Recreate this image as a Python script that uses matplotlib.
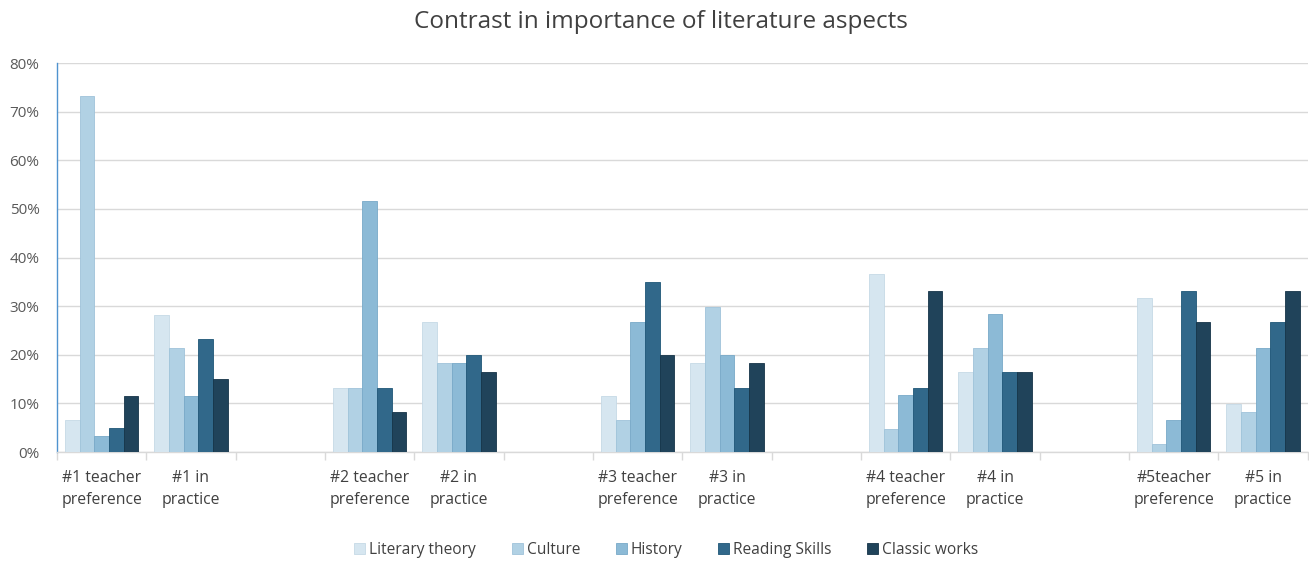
import numpy as np
import matplotlib.pyplot as plt
from matplotlib.ticker import FixedLocator, PercentFormatter

plt.rcParams['font.family'] = ['Open Sans', 'DejaVu Sans']

categories = [
    "#1 teacher\npreference", "#1 in\npractice", "",
    "#2 teacher\npreference", "#2 in\npractice", "",
    "#3 teacher\npreference", "#3 in\npractice", "",
    "#4 teacher\npreference", "#4 in\npractice", "",
    "#5teacher\npreference", "#5 in\npractice",
]
series_names = ["Literary theory", "Culture", "History", "Reading Skills", "Classic works"]

# percentages per category (empty spacer categories hold None)
literary_theory = [6.7, 28.2, None, 13.1, 26.7, None, 11.6, 18.3, None, 36.6, 16.5, None, 31.7, 9.9]
culture         = [73.3, 21.5, None, 13.1, 18.4, None, 6.6, 29.8, None, 4.8, 21.5, None, 1.7, 8.2]
history         = [3.3, 11.6, None, 51.7, 18.4, None, 26.7, 19.9, None, 11.7, 28.3, None, 6.6, 21.5]
reading_skills  = [4.9, 23.3, None, 13.1, 19.9, None, 35.0, 13.2, None, 13.2, 16.5, None, 33.2, 26.7]
classic_works   = [11.6, 15.0, None, 8.2, 16.5, None, 19.9, 18.3, None, 33.2, 16.5, None, 26.7, 33.2]

colors = ["#d6e6f0", "#b1d1e4", "#8cbad6", "#31688a", "#20435a"]
edges = ["#c5d9e6", "#9fc3da", "#78a9c8", "#1f5677", "#163448"]

series = [literary_theory, culture, history, reading_skills, classic_works]

fig = plt.figure(figsize=(13.09, 5.63), dpi=100)
ax = fig.add_axes([0.0435, 0.197, 0.9555, 0.691])

x = np.arange(len(categories))
width = 0.164
for i, (vals, name) in enumerate(zip(series, series_names)):
    v = np.array([np.nan if s is None else s for s in vals], dtype=float)
    offs = (i - 2) * width
    ax.bar(x + offs, v, width=width, color=colors[i], edgecolor=edges[i],
           linewidth=0.6, label=name, zorder=3)

ax.set_xlim(-0.5, len(categories) - 0.5)
ax.set_ylim(0, 80)
ax.set_yticks(np.arange(0, 81, 10))
ax.yaxis.set_major_formatter(PercentFormatter(decimals=0))
ax.grid(axis='y', color='#d9d9d9', linewidth=1.0, zorder=0)
ax.tick_params(axis='y', length=0, pad=12.5, labelsize=11, labelcolor='#595959')

ax.set_xticks(x)
ax.set_xticklabels(categories, fontsize=11.3, color='#404040', linespacing=1.45)
ax.tick_params(axis='x', which='major', length=0, pad=13)
ax.xaxis.set_minor_locator(FixedLocator(np.arange(-0.5, len(categories), 1.0)))
ax.tick_params(axis='x', which='minor', length=6, color='#d9d9d9', width=1)

for side in ['top', 'right']:
    ax.spines[side].set_visible(False)
ax.spines['left'].set_color('#4f93cf')
ax.spines['left'].set_linewidth(1.0)
ax.spines['bottom'].set_color('#d9d9d9')
ax.spines['bottom'].set_linewidth(1.0)

fig.suptitle("Contrast in importance of literature aspects", x=0.505, y=0.982,
             fontsize=17.5, color='#404040')

leg = fig.legend(loc='lower center', bbox_to_anchor=(0.509, -0.016), ncol=5,
                 frameon=False, fontsize=11.2, handlelength=0.7, handleheight=0.7,
                 handletextpad=0.25, columnspacing=2.3)
for t in leg.get_texts():
    t.set_color('#404040')

fig.savefig("out.png", dpi=100)
